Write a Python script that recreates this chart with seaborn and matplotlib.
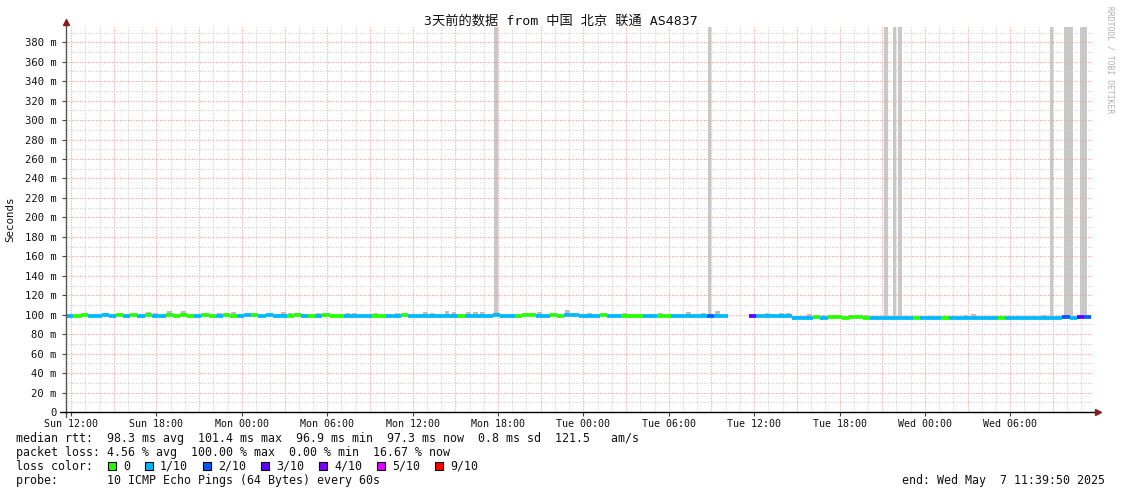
import numpy as np
import pandas as pd
import matplotlib
matplotlib.use("Agg")
import matplotlib.pyplot as plt
from matplotlib.patches import Rectangle
import seaborn as sns

# ---------------- data ----------------
title = "3天前的数据 from 中国 北京 联通 AS4837"
bin_hours = 0.5  # each bin = 30 minutes, start = Sun 11:39:50
x_tick_labels = ["Sun 12:00", "Sun 18:00", "Mon 00:00", "Mon 06:00", "Mon 12:00",
                 "Mon 18:00", "Tue 00:00", "Tue 06:00", "Tue 12:00", "Tue 18:00",
                 "Wed 00:00", "Wed 06:00"]
x_tick_hours = [0.336 + 6 * i for i in range(12)]
y_ticks = list(range(0, 381, 20))
y_tick_labels = ["0"] + [f"{v} m" for v in range(20, 381, 20)]

nan = np.nan
rtt = [99.0, 99.1, 99.2, 99.0, 98.8, 99.2, 99.0, 99.2, 99.0, 99.2,
       98.8, 99.2, 99.0, 99.0, 99.3, 99.1, 99.2, 99.1, 99.0, 99.2,
       99.1, 99.0, 99.3, 99.1, 99.0, 99.8, 99.2, 98.9, 99.3, 99.1,
       99.0, 99.1, 99.2, 98.9, 99.0, 99.1, 99.2, 98.8, 99.1, 99.0,
       98.8, 99.0, 99.0, 98.8, 99.1, 99.0, 99.1, 99.2, 99.0, 99.0,
       99.0, 99.1, 99.0, 99.1, 99.1, 99.0, 98.8, 99.1, 99.1, 99.0,
       99.2, 99.1, 99.1, 99.1, 99.2, 99.2, 98.9, 99.1, 99.2, 99.0,
       99.4, 99.2, 99.1, 99.1, 99.1, 99.2, 99.1, 99.1, 99.1, 99.1,
       99.1, 99.1, 99.1, 99.1, 99.1, 99.1, 99.1, 99.1, 99.1, 98.3,
       99.1, 99.1, 99.1, nan, nan, nan, 98.3, 98.6, 98.6, 98.6,
       98.6, 98.6, 97.0, 97.0, 97.0, 97.2, 97.0, 97.2, 97.2, 97.1,
       97.2, 97.2, 97.1, 97.0, 97.0, 97.0, 97.1, 97.0, 97.0, 97.1,
       97.0, 97.0, 97.0, 97.1, 97.0, 97.0, 97.1, 97.0, 97.0, 97.0,
       97.0, 97.1, 97.0, 97.0, 97.0, 97.0, 97.0, 97.0, 97.0, 97.0,
       97.2, 97.1, 97.3, 97.3]

loss = [1, 0, 0, 1, 1, 1, 1, 0, 1, 0,
        1, 0, 1, 1, 0, 0, 0, 0, 1, 0,
        0, 1, 0, 0, 1, 1, 0, 1, 1, 1,
        1, 0, 0, 1, 0, 1, 0, 0, 0, 1,
        1, 1, 1, 0, 0, 1, 1, 0, 1, 1,
        1, 1, 1, 1, 1, 0, 1, 1, 1, 1,
        1, 1, 1, 0, 0, 0, 1, 1, 0, 0,
        1, 1, 1, 1, 1, 0, 1, 1, 0, 0,
        0, 1, 1, 0, 0, 1, 1, 1, 1, 1,
        2, 1, 1, -1, -1, -1, 3, 1, 1, 1,
        1, 1, 1, 1, 1, 0, 1, 0, 0, 0,
        0, 0, 0, 1, 1, 1, 1, 1, 1, 0,
        1, 1, 1, 0, 1, 1, 1, 1, 1, 1,
        1, 0, 1, 1, 1, 1, 1, 1, 1, 1,
        2, 1, 3, 2]

smoke_bins = [5, 11, 12, 14, 16, 21, 23, 30, 31, 35, 39, 40, 43, 46, 50, 51, 53, 54,
              56, 57, 58, 60, 65, 66, 70, 73, 78, 83, 87, 89, 91, 98, 100, 101, 104,
              106, 112, 126, 127, 137, 140]
smoke_extra = [2.5, 4, 3, 4.5, 4.5, 3, 4, 4, 3, 3, 3, 3, 3, 3, 4, 3, 4.5, 3.5,
               3.5, 4, 4, 4, 3, 3.5, 5, 3, 3, 3, 4, 3.5, 4.5, 3, 3.5, 3.5, 3.5,
               3, 3, 3, 3.5, 3, 3]

spike_start = [30.06, 45.10, 57.47, 58.10, 58.45, 69.13, 70.12, 71.24]
spike_end = [30.34, 45.31, 57.75, 58.31, 58.74, 69.34, 70.75, 71.73]

loss_labels = ["0", "1/10", "2/10", "3/10", "4/10", "5/10", "9/10"]
loss_colors = ["#26ff00", "#00b8ff", "#0059ff", "#5e00ff", "#7e00ff", "#dd00ff", "#ff0000"]

# ---------------- figure ----------------
sns.set_theme(style="white")
plt.rcParams["font.family"] = ["DejaVu Sans Mono", "Noto Sans CJK SC"]

W, H = 1121, 494
fig = plt.figure(figsize=(W / 100, H / 100), dpi=100)
fig.patch.set_facecolor("white")

def fx(px):
    return px / W

def fy(py):
    return 1 - py / H

ax_l, ax_r, ax_b, ax_t = 66.3, 1093.0, 412.0, 27.0
ax = fig.add_axes([fx(ax_l), fy(ax_b), (ax_r - ax_l) / W, (ax_b - ax_t) / H])
ax.set_facecolor("white")
XMAX = (ax_r - ax_l) / 14.23
YMAX = 395.7

# grid
minor_c, major_c = "#d0d0d0", "#f2a0a0"
for k in range(0, 73):
    h = 0.336 + k
    if h > XMAX:
        break
    is_major = (k % 3 == 0)
    ax.axvline(h, color=major_c if is_major else minor_c, lw=0.8,
               ls=(0, (1, 1.4)), zorder=2.5)
for v in range(10, 396, 10):
    ax.axhline(v, color=major_c if v % 20 == 0 else minor_c, lw=0.8,
               ls=(0, (1, 1.4)), zorder=2.5)

# tall grey spikes
sp_s = np.array(spike_start)
sp_e = np.array(spike_end)
ax.bar(sp_s, 400 - 99.0, bottom=99.0, width=sp_e - sp_s, align="edge",
       color="#c8c8c8", lw=0, zorder=2)

# smoke bumps
rtt_arr = np.array(rtt)
sb = np.array(smoke_bins)
ax.bar(sb * bin_hours + 0.08, np.array(smoke_extra), bottom=rtt_arr[sb],
       width=0.34, align="edge", color="#bdbdbd", lw=0, zorder=2)

# median rtt line coloured by loss
rows = []
for i, (v, l) in enumerate(zip(rtt, loss)):
    if np.isnan(v) or l < 0:
        continue
    t0 = i * bin_hours
    rows.append({"t": t0, "rtt": v, "loss": loss_labels[l], "bin": i})
    rows.append({"t": min(t0 + bin_hours, XMAX - 0.1), "rtt": v, "loss": loss_labels[l], "bin": i})
df = pd.DataFrame(rows)
pal = dict(zip(loss_labels, loss_colors))
sns.lineplot(data=df, x="t", y="rtt", hue="loss", units="bin", estimator=None,
             palette=pal, lw=2.7, legend=False, ax=ax, sort=False,
             solid_capstyle="butt", zorder=3)

ax.set_xlim(0, XMAX)
ax.set_ylim(0, YMAX)
ax.set_xlabel("")
ax.set_ylabel("")
for s in ax.spines.values():
    s.set_visible(False)

ax.set_xticks(x_tick_hours)
ax.set_xticklabels(x_tick_labels, fontsize=7.2, color="#111111")
ax.set_yticks(y_ticks)
ax.set_yticklabels(y_tick_labels, fontsize=7.6, color="#111111")
ax.tick_params(axis="x", length=3, width=0.8, color="#444444", pad=2, direction="out", bottom=True)
ax.tick_params(axis="y", length=3, width=0.8, color="#444444", pad=4, direction="out", left=True)

# axes lines with arrows
ax.plot([0, 0], [-0.012, 1.005], transform=ax.transAxes, color="#555555", lw=1.0,
        clip_on=False, zorder=5)
ax.plot([-0.006, 1.003], [0, 0], transform=ax.transAxes, color="#000000", lw=1.0,
        clip_on=False, zorder=5)
ax.plot([0], [1.012], transform=ax.transAxes, marker="^", ms=4.5, color="#8b1a1a",
        clip_on=False, zorder=6)
ax.plot([1.0045], [0], transform=ax.transAxes, marker=">", ms=4.5, color="#8b1a1a",
        clip_on=False, zorder=6)

# title and side texts
fig.text(fx(560.5), fy(21), title, ha="center", va="center", fontsize=9.5,
         color="#111111", family=["DejaVu Sans Mono", "Noto Sans CJK SC"])
fig.text(fx(10), fy(219), "Seconds", rotation=90, ha="center", va="center",
         fontsize=7.8, color="#111111")
fig.text(fx(1110), fy(60), "RRDTOOL / TOBI OETIKER", rotation=270, ha="center",
         va="center", fontsize=5.8, color="#b0b0b0")

# legend / stats
fs = 8.4
line1 = "median rtt:  98.3 ms avg  101.4 ms max  96.9 ms min  97.3 ms now  0.8 ms sd  121.5   am/s"
line2 = "packet loss: 4.56 % avg  100.00 % max  0.00 % min  16.67 % now"
line4 = "probe:       10 ICMP Echo Pings (64 Bytes) every 60s"
fig.text(fx(16), fy(438), line1, ha="left", va="center", fontsize=fs, color="#111111")
fig.text(fx(16), fy(452), line2, ha="left", va="center", fontsize=fs, color="#111111")
fig.text(fx(16), fy(466), "loss color:", ha="left", va="center", fontsize=fs, color="#111111")
sq_x = [108, 145, 203, 261, 319, 377, 435]
for px, lab, col in zip(sq_x, loss_labels, loss_colors):
    fig.patches.append(Rectangle((fx(px), fy(470)), 8 / W, 8 / H, transform=fig.transFigure,
                                 facecolor=col, edgecolor="black", lw=0.8, figure=fig))
    fig.text(fx(px + 15), fy(466), lab, ha="left", va="center", fontsize=fs, color="#111111")
fig.text(fx(16), fy(480), line4, ha="left", va="center", fontsize=fs, color="#111111")
fig.text(fx(1105), fy(480), "end: Wed May  7 11:39:50 2025", ha="right", va="center",
         fontsize=fs, color="#111111")

fig.savefig("out.png", dpi=100, facecolor="white")
